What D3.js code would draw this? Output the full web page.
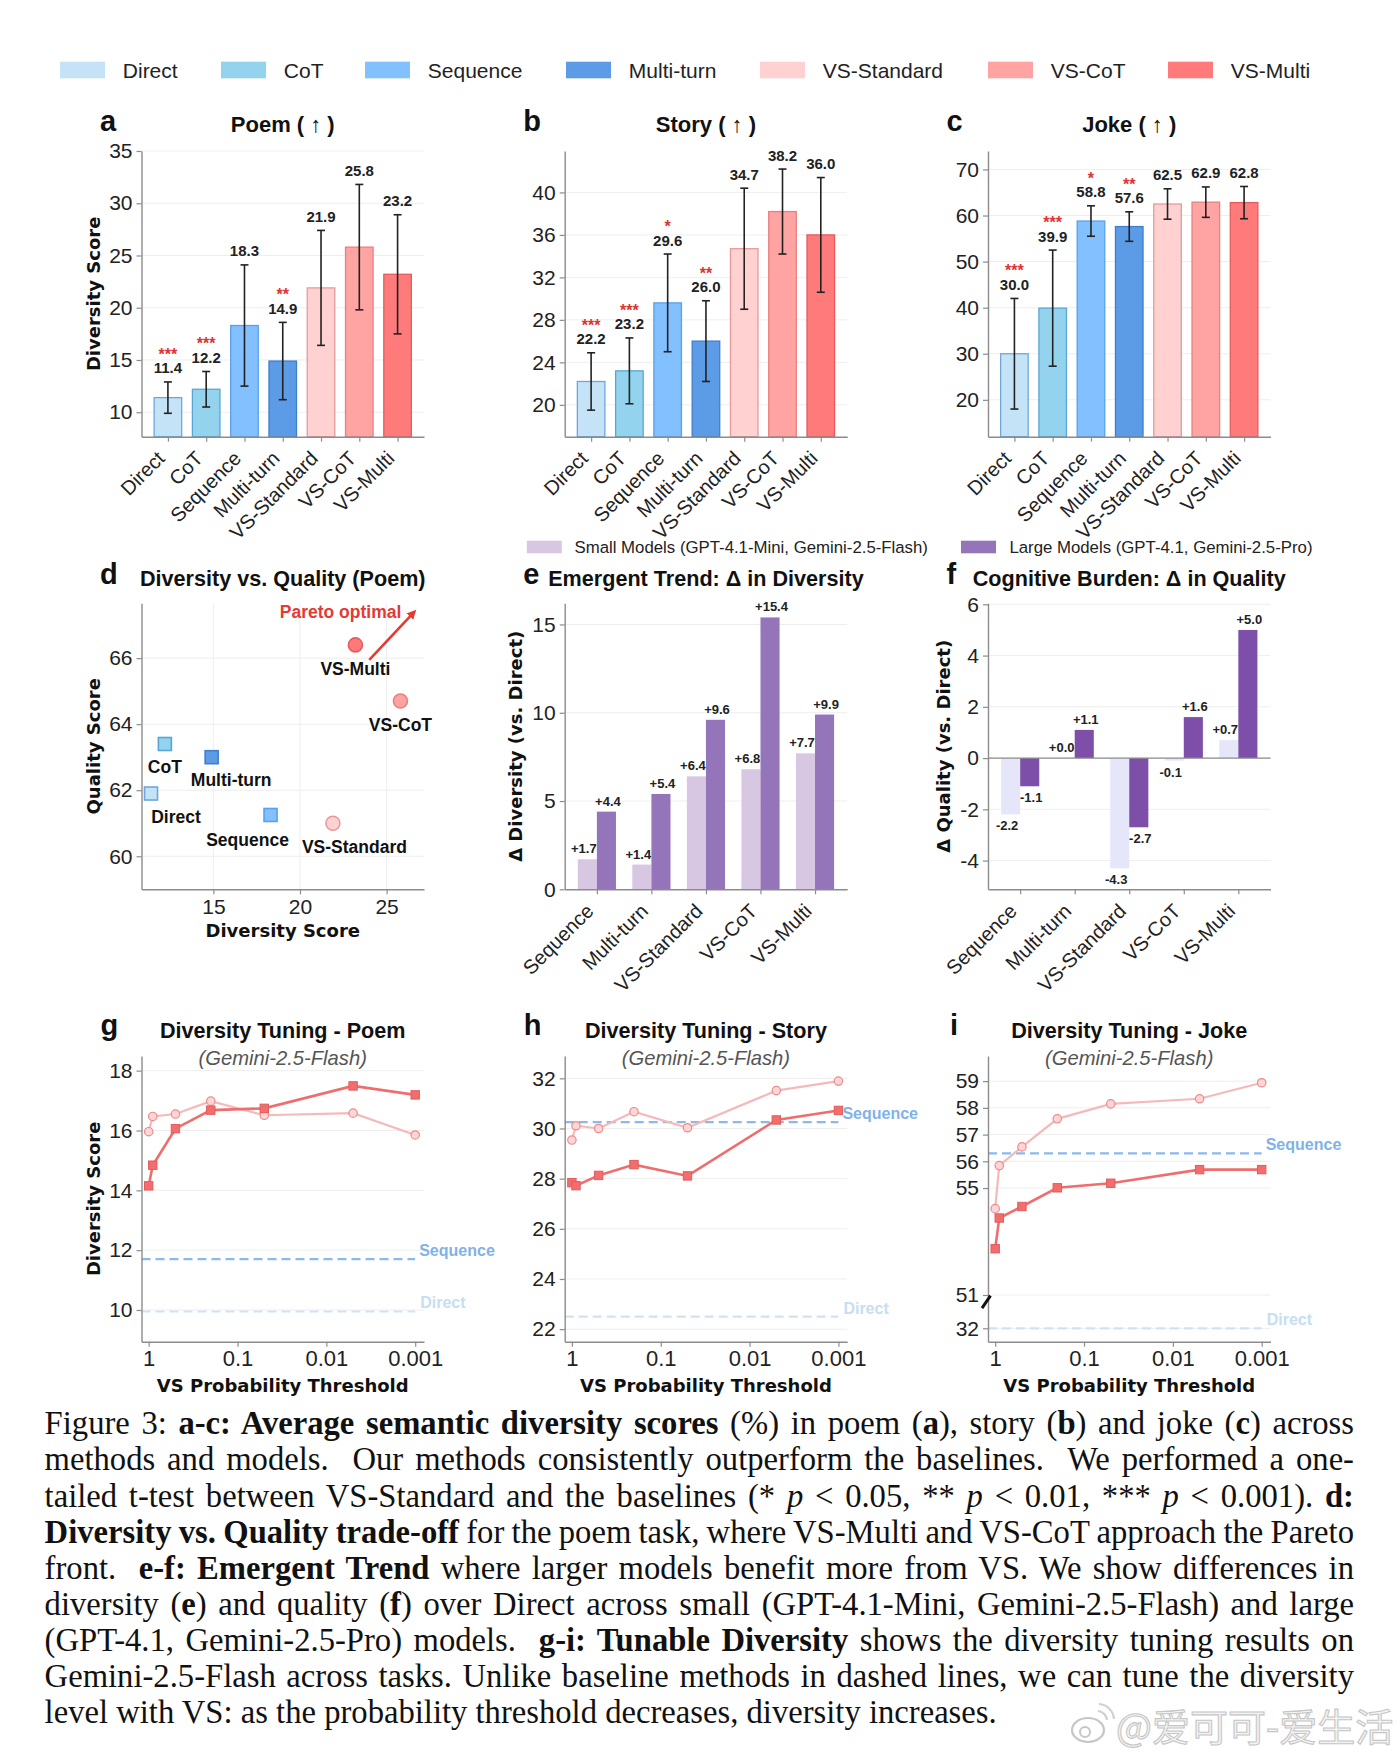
<!DOCTYPE html>
<html><head><meta charset="utf-8">
<script src="https://cdn.jsdelivr.net/npm/d3@7/dist/d3.min.js"></script>
<style>html,body{margin:0;padding:0;background:#fff}svg{display:block}</style>
</head><body>
<svg id="fig" width="1400" height="1758" xmlns="http://www.w3.org/2000/svg"></svg>
<script>
// ---------------- DATA ----------------
const methods = ["Direct","CoT","Sequence","Multi-turn","VS-Standard","VS-CoT","VS-Multi"];
const poemDiv  = [11.4,12.2,18.3,14.9,21.9,25.8,23.2];
const poemErr  = [1.5,1.7,5.8,3.7,5.5,6.0,5.7];
const poemSig  = ["***","***","","**","","",""];
const storyDiv = [22.2,23.2,29.6,26.0,34.7,38.2,36.0];
const storyErr = [2.7,3.1,4.6,3.8,5.7,4.0,5.4];
const storySig = ["***","***","*","**","","",""];
const jokeDiv  = [30.0,39.9,58.8,57.6,62.5,62.9,62.8];
const jokeErr  = [12.0,12.6,3.3,3.2,3.3,3.3,3.5];
const jokeSig  = ["***","***","*","**","","",""];
const poemQuality = [61.9,63.4,61.25,63.0,61.0,64.7,66.4];
const paretoFrom = [24.0,65.95], paretoTo = [26.6,67.4];

const deltaMethods = ["Sequence","Multi-turn","VS-Standard","VS-CoT","VS-Multi"];
const divDeltaSmall  = [1.7,1.4,6.4,6.8,7.7];
const divDeltaLarge  = [4.4,5.4,9.6,15.4,9.9];
const qualDeltaSmall = [-2.2,0.0,-4.3,-0.1,0.7];
const qualDeltaLarge = [-1.1,1.1,-2.7,1.6,5.0];

const thresholds     = [1.0,0.9,0.5,0.2,0.05,0.005,0.001];
const tunePoemStd    = [15.96,16.47,16.55,16.98,16.51,16.58,15.85];
const tunePoemMulti  = [14.15,14.84,16.06,16.68,16.74,17.49,17.19];
const tuneStoryStd   = [29.54,30.11,30.00,30.67,30.03,31.51,31.89];
const tuneStoryMulti = [27.84,27.72,28.13,28.56,28.11,30.34,30.72];
const tuneJokeStd    = [54.23,55.84,56.54,57.59,58.15,58.34,58.94];
const tuneJokeMulti  = [52.73,53.88,54.31,55.01,55.18,55.69,55.69];
const baselineSequence = [11.7,30.25,56.3];
const baselineDirect   = [9.95,22.5,32.0];

const poemTicks  = [10,15,20,25,30,35];
const storyTicks = [20,24,28,32,36,40];
const jokeTicks  = [20,30,40,50,60,70];
const qualTicks  = [60,62,64,66];
const divTicksD  = [15,20,25];
const eTicks = [0,5,10,15];
const fTicks = [-4,-2,0,2,4,6];
const gTicks = [10,12,14,16,18];
const hTicks = [22,24,26,28,30,32];
const iTicks = [32,51,55,56,57,58,59];
const thresholdTicks = [1,0.1,0.01,0.001];
const thresholdLabels = ["1","0.1","0.01","0.001"];

const captionLines = [
 [["Figure 3: ","n"],["a-c: Average semantic diversity scores","b"],[" (%) in poem (","n"],["a","b"],["), story (","n"],["b","b"],[") and joke (","n"],["c","b"],[") across","n"]],
 [["methods and models.  Our methods consistently outperform the baselines.  We performed a one-","n"]],
 [["tailed t-test between VS-Standard and the baselines (* ","n"],["p","i"],[" < 0.05, ** ","n"],["p","i"],[" < 0.01, *** ","n"],["p","i"],[" < 0.001). ","n"],["d:","b"]],
 [["Diversity vs. Quality trade-off","b"],[" for the poem task, where VS-Multi and VS-CoT approach the Pareto","n"]],
 [["front.  ","n"],["e-f: Emergent Trend","b"],[" where larger models benefit more from VS. We show differences in","n"]],
 [["diversity (","n"],["e","b"],[") and quality (","n"],["f","b"],[") over Direct across small (GPT-4.1-Mini, Gemini-2.5-Flash) and large","n"]],
 [["(GPT-4.1, Gemini-2.5-Pro) models.  ","n"],["g-i: Tunable Diversity","b"],[" shows the diversity tuning results on","n"]],
 [["Gemini-2.5-Flash across tasks. Unlike baseline methods in dashed lines, we can tune the diversity","n"]],
 [["level with VS: as the probability threshold decreases, diversity increases.","n"]]
];

// ---------------- STYLE / LAYOUT ----------------
const F  = "'Liberation Sans', Arial, Helvetica, sans-serif";
const FD = "'DejaVu Sans', sans-serif";
const FS = "'Liberation Serif', 'Times New Roman', serif";
const INK = "#222", AX = "#8c8c8c", GRID = "#eeeeee";
const methodColors = ["#bfe0f5","#87ceeb","#74b9ff","#4a90e2","#ffcccc","#ff9999","#ff6b6b"];
const methodEdges  = ["#6fa6dc","#5aa6d6","#5aa0ea","#3f7fcc","#e89a9a","#e98080","#e65c5c"];
const smallE = "#d8c7e3", largeE = "#9575b9", smallF = "#e6e6fa", largeF = "#7e4fa8";
const colX = [141.5, 564.7, 988], PW = 282.5;
const rows = [{top:151,bottom:436.7},{top:603.3,bottom:889.3},{top:1056,bottom:1341.7}];
const LABEL_SIZE = 18;

const svg = d3.select("#fig");
svg.append("rect").attr("width",1400).attr("height",1758).attr("fill","#fff");
const defs = svg.append("defs");
defs.append("marker").attr("id","arrowRed").attr("viewBox","0 0 10 10").attr("refX",7).attr("refY",5)
  .attr("markerWidth",3.6).attr("markerHeight",3.6).attr("orient","auto")
  .append("path").attr("d","M0,0 L10,5 L0,10 z").attr("fill","#e53935");

function styleAxis(ax, size){
  ax.select(".domain").attr("stroke",AX).attr("stroke-width",1.4);
  ax.selectAll(".tick line").attr("stroke",AX).attr("stroke-width",1.2);
  ax.selectAll(".tick text").attr("font-family",F).attr("font-size",size).attr("fill",INK);
}
function yAxis(g, y, ticks, left, size, fmt){
  const ax = g.append("g").attr("transform",`translate(${left},0)`)
    .call(d3.axisLeft(y).tickValues(ticks).tickFormat(fmt || (d=>String(d))).tickSize(5).tickSizeOuter(0).tickPadding(4));
  styleAxis(ax, size || 21);
  return ax;
}
function hGrid(g, y, ticks, left, right){
  g.selectAll(null).data(ticks).join("line").attr("x1",left).attr("x2",right)
    .attr("y1",d=>y(d)).attr("y2",d=>y(d)).attr("stroke",GRID).attr("stroke-width",1);
}
function letterTitle(x, y, s){
  svg.append("text").attr("x",x).attr("y",y).text(s).attr("font-family",F).attr("font-weight","bold")
    .attr("font-size",29).attr("fill","#111");
}
function title(cx, y, s, size){
  svg.append("text").attr("x",cx).attr("y",y).text(s).attr("text-anchor","middle").attr("font-family",F)
    .attr("font-weight","bold").attr("font-size",size).attr("fill","#111");
}
function yLabel(x, cy, s){
  svg.append("text").attr("transform",`translate(${x},${cy}) rotate(-90)`).attr("dy","0.35em")
    .attr("text-anchor","middle").text(s).attr("font-family",FD).attr("font-weight","bold")
    .attr("font-size",LABEL_SIZE).attr("fill","#111");
}
function xLabel(cx, y, s){
  svg.append("text").attr("x",cx).attr("y",y).attr("text-anchor","middle").text(s).attr("font-family",FD)
    .attr("font-weight","bold").attr("font-size",LABEL_SIZE).attr("fill","#111");
}
function rotatedLabels(g, names, x, bottom, size){
  g.selectAll(null).data(names).join("text")
    .attr("transform",(d,i)=>`translate(${x(i)-2},${bottom+23}) rotate(-45)`)
    .attr("text-anchor","end").text(d=>d).attr("font-family",F).attr("font-size",size).attr("fill",INK);
}

// ---------------- TOP LEGEND ----------------
const legendX = [60,221,365,566,760,988,1168];
methods.forEach((m,i)=>{
  svg.append("rect").attr("x",legendX[i]).attr("y",61.7).attr("width",45).attr("height",16.6)
    .attr("fill",methodColors[i]).attr("fill-opacity",0.9);
  svg.append("text").attr("x",legendX[i]+62.8).attr("y",78).text(m).attr("font-family",F)
    .attr("font-size",21).attr("fill",INK);
});

// ---------------- ROW 1: a-c ----------------
const barSets = [
 {vals:poemDiv,  errs:poemErr,  sig:poemSig,  dom:[7.66,35],   ticks:poemTicks,  letter:"a", name:"Poem"},
 {vals:storyDiv, errs:storyErr, sig:storySig, dom:[17.0,43.9], ticks:storyTicks, letter:"b", name:"Story"},
 {vals:jokeDiv,  errs:jokeErr,  sig:jokeSig,  dom:[12.0,74.0], ticks:jokeTicks,  letter:"c", name:"Joke"}];
barSets.forEach((s,k)=>{
  const left = colX[k], right = left+PW, {top,bottom} = rows[0];
  const g = svg.append("g");
  const x = d3.scaleLinear().domain([-0.69,6.69]).range([left,right]);
  const y = d3.scaleLinear().domain(s.dom).range([bottom,top]);
  hGrid(g, y, s.ticks, left, right);
  const bw = 0.72;
  g.selectAll("rect.bar").data(s.vals).join("rect").attr("class","bar")
    .attr("x",(d,i)=>x(i-bw/2)).attr("width",x(bw)-x(0))
    .attr("y",d=>y(d)).attr("height",d=>y(s.dom[0])-y(d))
    .attr("fill",(d,i)=>methodColors[i]).attr("fill-opacity",0.9)
    .attr("stroke",(d,i)=>methodEdges[i]).attr("stroke-width",1.3);
  s.vals.forEach((v,i)=>{
    const e = s.errs[i], cx = x(i), y1 = y(v+e), y0 = y(v-e);
    g.append("line").attr("x1",cx).attr("x2",cx).attr("y1",y0).attr("y2",y1).attr("stroke","#222").attr("stroke-width",1.6);
    [y0,y1].forEach(yy=>g.append("line").attr("x1",cx-4).attr("x2",cx+4).attr("y1",yy).attr("y2",yy).attr("stroke","#222").attr("stroke-width",1.6));
    g.append("text").attr("x",cx).attr("y",y1-8.5).attr("text-anchor","middle").text(d3.format(".1f")(v))
      .attr("font-family",F).attr("font-weight","bold").attr("font-size",15).attr("fill",INK);
    if (s.sig[i]) g.append("text").attr("x",cx).attr("y",y1-22).attr("text-anchor","middle").text(s.sig[i])
      .attr("font-family",F).attr("font-weight","bold").attr("font-size",16).attr("fill","#dd3333");
  });
  yAxis(g, y, s.ticks, left, 21);
  const xa = g.append("g").attr("transform",`translate(0,${bottom})`)
    .call(d3.axisBottom(x).tickValues(d3.range(methods.length)).tickFormat("").tickSize(5).tickSizeOuter(0));
  styleAxis(xa, 20);
  rotatedLabels(g, methods, x, bottom, 20);
  letterTitle(left-41.5, 130.7, s.letter);
  title(left+PW/2, 131.7, `${s.name} ( ↑ )`, 22);
});
yLabel(94, (rows[0].top+rows[0].bottom)/2, "Diversity Score");

// ---------------- ROW 2 LEGEND ----------------
svg.append("rect").attr("x",526.8).attr("y",540.7).attr("width",35).attr("height",12.6).attr("fill",smallE);
svg.append("text").attr("x",574.5).attr("y",552.8).text("Small Models (GPT-4.1-Mini, Gemini-2.5-Flash)")
  .attr("font-family",F).attr("font-size",16.8).attr("fill",INK);
svg.append("rect").attr("x",961).attr("y",540.7).attr("width",35).attr("height",12.6).attr("fill",largeE);
svg.append("text").attr("x",1009.4).attr("y",552.8).text("Large Models (GPT-4.1, Gemini-2.5-Pro)")
  .attr("font-family",F).attr("font-size",16.8).attr("fill",INK);

// ---------------- PANEL d ----------------
{
  const left = colX[0], right = left+PW, {top,bottom} = rows[1];
  const g = svg.append("g");
  const x = d3.scaleLinear().domain([10.85,27.16]).range([left,right]);
  const y = d3.scaleLinear().domain([59.0,67.66]).range([bottom,top]);
  hGrid(g, y, qualTicks, left, right);
  g.selectAll(null).data(divTicksD).join("line").attr("x1",d=>x(d)).attr("x2",d=>x(d))
    .attr("y1",top).attr("y2",bottom).attr("stroke",GRID);
  const labelOffset = [[25,23],[0,23],[-23,25],[19.5,23],[21.5,23.5],[0,23.5],[0,24]];
  methods.forEach((m,i)=>{
    const px = x(poemDiv[i]), py = y(poemQuality[i]);
    if (i < 4) {
      g.append("rect").attr("x",px-6.5).attr("y",py-6.5).attr("width",13).attr("height",13)
        .attr("fill",methodColors[i]).attr("fill-opacity",0.9).attr("stroke",methodEdges[i]).attr("stroke-width",1.6);
    } else {
      g.append("circle").attr("cx",px).attr("cy",py).attr("r",7)
        .attr("fill",methodColors[i]).attr("fill-opacity",0.9).attr("stroke",methodEdges[i]).attr("stroke-width",1.6);
    }
    g.append("text").attr("x",px+labelOffset[i][0]).attr("y",py+labelOffset[i][1]).attr("dy","0.35em")
      .attr("text-anchor","middle").text(m).attr("font-family",F).attr("font-weight","bold")
      .attr("font-size",17.5).attr("fill","#111");
  });
  g.append("line").attr("x1",x(paretoFrom[0])).attr("y1",y(paretoFrom[1])).attr("x2",x(paretoTo[0])).attr("y2",y(paretoTo[1]))
    .attr("stroke","#e53935").attr("stroke-width",2.6).attr("marker-end","url(#arrowRed)");
  g.append("text").attr("x",x(paretoTo[0]-0.75)).attr("y",y(paretoTo[1])).attr("dy","0.35em").attr("text-anchor","end")
    .text("Pareto optimal").attr("font-family",F).attr("font-weight","bold").attr("font-size",17.5).attr("fill","#e53935");
  yAxis(g, y, qualTicks, left, 21);
  const xa = g.append("g").attr("transform",`translate(0,${bottom})`)
    .call(d3.axisBottom(x).tickValues(divTicksD).tickSize(5).tickSizeOuter(0).tickPadding(5));
  styleAxis(xa, 21);
  letterTitle(left-41.5, 584, "d");
  title(left+PW/2, 586, "Diversity vs. Quality (Poem)", 21.6);
  yLabel(94, (top+bottom)/2, "Quality Score");
  xLabel(left+PW/2, 937, "Diversity Score");
}

// ---------------- PANELS e, f ----------------
function deltaPanel(k, small, large, dom, ticks, cSmall, cLarge, letter, ttl, ylab, ylabX){
  const left = colX[k], right = left+PW, {top,bottom} = rows[1];
  const g = svg.append("g");
  const x = d3.scaleLinear().domain([-0.59,4.59]).range([left,right]);
  const y = d3.scaleLinear().domain(dom).range([bottom,top]);
  hGrid(g, y, ticks, left, right);
  const bw = 0.35;
  const fmt = d => (d >= 0 ? "+" : "") + d.toFixed(1);
  [[small,cSmall,-bw,-3.5],[large,cLarge,0,1.5]].forEach(([vals,col,off,lab])=>{
    g.selectAll(null).data(vals).join("rect")
      .attr("x",(d,i)=>x(i+off)).attr("width",x(bw)-x(0))
      .attr("y",d=>y(Math.max(0,d))).attr("height",d=>Math.abs(y(d)-y(0)))
      .attr("fill",col);
    g.selectAll(null).data(vals).join("text")
      .attr("x",(d,i)=>x(i+off+bw/2)+lab).attr("y",d=>d>=0 ? y(d)-6 : y(d)+16)
      .attr("text-anchor","middle").text(fmt).attr("font-family",F).attr("font-weight","bold")
      .attr("font-size",13).attr("fill",INK);
  });
  if (dom[0] < 0) g.append("line").attr("x1",left).attr("x2",right).attr("y1",y(0)).attr("y2",y(0)).attr("stroke",AX).attr("stroke-width",1.4);
  yAxis(g, y, ticks, left, 21);
  const xa = g.append("g").attr("transform",`translate(0,${bottom})`)
    .call(d3.axisBottom(x).tickValues(d3.range(deltaMethods.length)).tickFormat("").tickSize(5).tickSizeOuter(0));
  styleAxis(xa, 20);
  rotatedLabels(g, deltaMethods, x, bottom, 20);
  svg.append("text").attr("x",left-41.5).attr("y",584).text(letter).attr("font-family",F).attr("font-weight","bold")
    .attr("font-size",29).attr("fill","#111");
  title(left+PW/2, 586, ttl, 21.6);
  yLabel(ylabX, (top+bottom)/2, ylab);
}
deltaPanel(1, divDeltaSmall, divDeltaLarge, [0,16.2], eTicks, smallE, largeE, "e", "Emergent Trend: Δ in Diversity", "Δ Diversity (vs. Direct)", 515.6);
deltaPanel(2, qualDeltaSmall, qualDeltaLarge, [-5.12,6.04], fTicks, smallF, largeF, "f", "Cognitive Burden: Δ in Quality", "Δ Quality (vs. Direct)", 943.3);

// ---------------- ROW 3: g-i ----------------
const tuneSets = [
 {std:tunePoemStd,  multi:tunePoemMulti,  ticks:gTicks, letter:"g", name:"Poem"},
 {std:tuneStoryStd, multi:tuneStoryMulti, ticks:hTicks, letter:"h", name:"Story"},
 {std:tuneJokeStd,  multi:tuneJokeMulti,  ticks:iTicks, letter:"i", name:"Joke"}];
tuneSets.forEach((s,k)=>{
  const left = colX[k], right = left+PW, {top,bottom} = rows[2];
  const g = svg.append("g");
  const x = d3.scaleLog().domain([1.205,0.000796]).range([left,right]);
  let y;
  if (k === 0) y = d3.scaleLinear().domain([8.94,18.49]).range([bottom,top]);
  else if (k === 1) y = d3.scaleLinear().domain([21.5,32.89]).range([bottom,top]);
  else y = d3.scaleLinear().domain([31.0,32,51,59.94]).range([bottom,bottom-13.4,bottom-46.7,top]);
  hGrid(g, y, s.ticks, left, right);
  const seqV = baselineSequence[k], dirV = baselineDirect[k], xEnd = x(thresholdTicks[3]);
  g.append("line").attr("x1",left).attr("x2",xEnd).attr("y1",y(seqV)).attr("y2",y(seqV))
    .attr("stroke","#8ab9ec").attr("stroke-width",2.2).attr("stroke-dasharray","9,5");
  g.append("line").attr("x1",left).attr("x2",xEnd).attr("y1",y(dirV)).attr("y2",y(dirV))
    .attr("stroke","#cfe3f3").attr("stroke-width",2.2).attr("stroke-dasharray","9,5");
  g.append("text").attr("x",xEnd+4).attr("y",y(seqV)-3).text("Sequence").attr("font-family",F)
    .attr("font-weight","bold").attr("font-size",16).attr("fill","#7fb3e8");
  g.append("text").attr("x",xEnd+5).attr("y",y(dirV)-3).text("Direct").attr("font-family",F)
    .attr("font-weight","bold").attr("font-size",16).attr("fill","#c6def1");
  const line = d3.line().x(d=>x(d[0])).y(d=>y(d[1]));
  const stdPts = thresholds.map((t,i)=>[t,s.std[i]]);
  const mulPts = thresholds.map((t,i)=>[t,s.multi[i]]);
  g.append("path").attr("d",line(stdPts)).attr("fill","none").attr("stroke","#f6b9b9").attr("stroke-width",2.2);
  g.append("path").attr("d",line(mulPts)).attr("fill","none").attr("stroke","#ee6e6e").attr("stroke-width",2.6);
  g.selectAll(null).data(stdPts).join("circle").attr("cx",d=>x(d[0])).attr("cy",d=>y(d[1])).attr("r",4.2)
    .attr("fill","#fcd6d6").attr("stroke","#ec8b8b").attr("stroke-width",1.2);
  g.selectAll(null).data(mulPts).join("rect").attr("x",d=>x(d[0])-4.2).attr("y",d=>y(d[1])-4.2)
    .attr("width",8.4).attr("height",8.4).attr("fill","#f26d6d").attr("stroke","#e45c5c").attr("stroke-width",1);
  yAxis(g, y, s.ticks, left, 21);
  if (k === 2) {
    const yb = y(47.2);
    g.append("line").attr("x1",left-6).attr("x2",left+2.5).attr("y1",yb+6.5).attr("y2",yb-6).attr("stroke","#111").attr("stroke-width",3);
  }
  const xa = g.append("g").attr("transform",`translate(0,${bottom})`)
    .call(d3.axisBottom(x).tickValues(thresholdTicks).tickFormat((d,i)=>thresholdLabels[i]).tickSize(5).tickSizeOuter(0).tickPadding(4));
  styleAxis(xa, 22);
  svg.append("text").attr("x",left-(k===2?38:41)).attr("y",1035).text(s.letter).attr("font-family",F).attr("font-weight","bold")
    .attr("font-size",29).attr("fill","#111");
  title(left+PW/2, 1038, `Diversity Tuning - ${s.name}`, 21.6);
  svg.append("text").attr("x",left+PW/2).attr("y",1065).attr("text-anchor","middle").text("(Gemini-2.5-Flash)")
    .attr("font-family",F).attr("font-style","italic").attr("font-size",20.2).attr("fill","#555");
  xLabel(left+PW/2, 1392, "VS Probability Threshold");
});
yLabel(94, (rows[2].top+rows[2].bottom)/2, "Diversity Score");

// ---------------- CAPTION ----------------
const capLeft = 44.6, capWidth = 1309.4, capTop = 1434.3, capLH = 36.1, lastLineWidth = 952.5;
function makeLine(segs, li, size){
  const t = svg.append("text").attr("x",capLeft).attr("y",capTop+li*capLH).attr("font-family",FS)
    .attr("font-size",size).attr("fill","#111").style("white-space","pre");
  segs.forEach(([s,st])=>{
    const ts = t.append("tspan").text(s);
    if (st === "b") ts.attr("font-weight","bold");
    if (st === "i") ts.attr("font-style","italic");
  });
  return t;
}
const probe = makeLine(captionLines[captionLines.length-1], 0, 29);
const capSize = 29 * lastLineWidth / probe.node().getComputedTextLength();
probe.remove();
captionLines.forEach((segs, li)=>{
  const t = makeLine(segs, li, capSize);
  if (li < captionLines.length-1) {
    const nat = t.node().getComputedTextLength();
    const spaces = segs.map(d=>d[0]).join("").split(" ").length-1;
    t.style("word-spacing", ((capWidth-nat)/spaces)+"px");
  }
});

// ---------------- WATERMARK ----------------
const wm = svg.append("g").attr("opacity",0.85);
wm.append("ellipse").attr("cx",1088).attr("cy",1730).attr("rx",16).attr("ry",12).attr("fill","none").attr("stroke","#bdbdbd").attr("stroke-width",2.2);
wm.append("circle").attr("cx",1085).attr("cy",1732).attr("r",5).attr("fill","none").attr("stroke","#bdbdbd").attr("stroke-width",2);
wm.append("path").attr("d","M1098,1711 a10,10 0 0 1 9,9 M1099,1704 a16,16 0 0 1 15,15").attr("fill","none").attr("stroke","#c8c8c8").attr("stroke-width",2.2);
wm.append("text").attr("x",1116).attr("y",1741).text("@爱可可-爱生活").attr("font-family","'Noto Sans CJK SC', sans-serif")
  .attr("font-size",38).attr("fill","#f2f2f2").attr("stroke","#bdbdbd").attr("stroke-width",1.1);
</script>
</body></html>
